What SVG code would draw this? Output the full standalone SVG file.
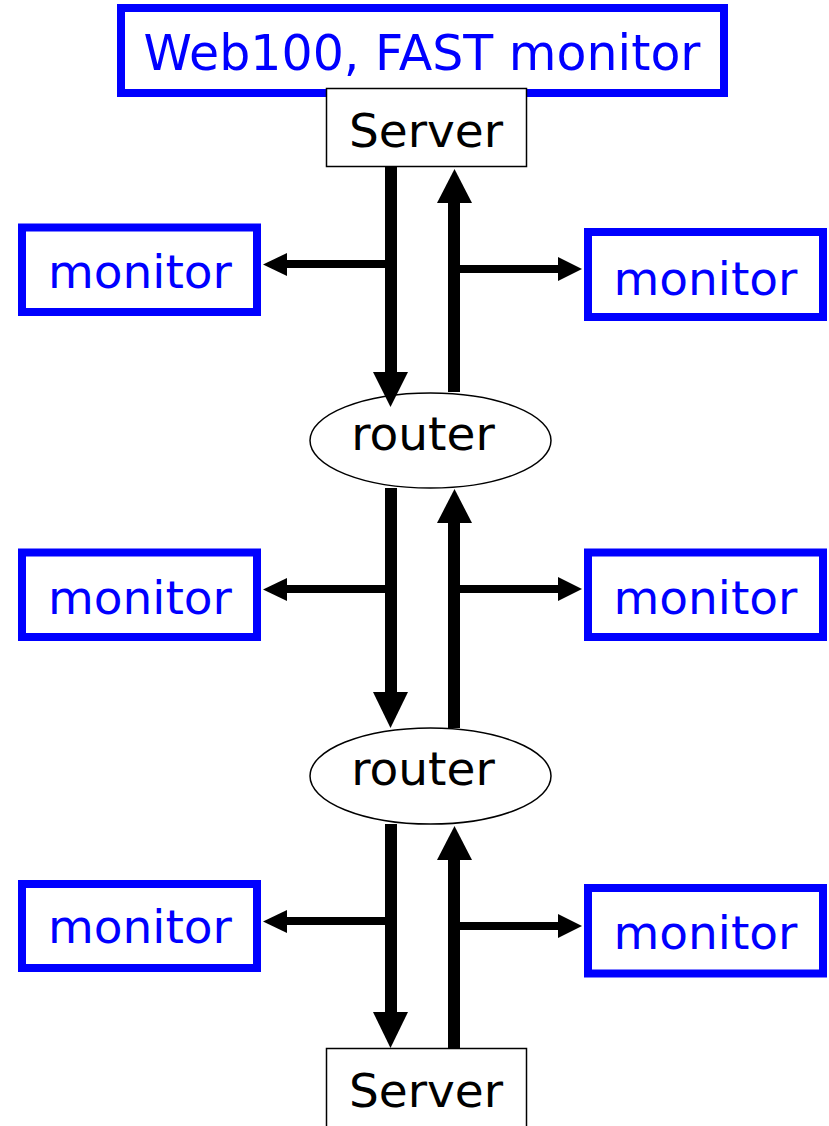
<svg xmlns="http://www.w3.org/2000/svg" width="829" height="1126" viewBox="0 0 829 1126">
<style>
.mon rect{fill:#fff;stroke:#0000ff;stroke-width:8}
.mon text{fill:#0000ff;font-family:"DejaVu Sans",Verdana,sans-serif;font-size:47px;text-anchor:middle}
.blk text{fill:#000;font-family:"DejaVu Sans",Verdana,sans-serif;font-size:47px;text-anchor:middle}
.blk rect,.blk ellipse{fill:#fff;stroke:#000;stroke-width:1.5}
.vl{stroke:#000;stroke-width:12;fill:none}
.hl{stroke:#000;stroke-width:8;fill:none}
.hd{fill:#000}
</style>
<rect width="829" height="1126" fill="#fff"/>
<g id="title" class="mon"><rect x="121" y="8" width="603" height="85"/><text x="422" y="70" style="font-size:49px">Web100, FAST monitor</text></g>
<g id="server-top" class="blk"><rect x="326.5" y="88.5" width="200" height="78"/><text x="426" y="147">Server</text></g>
<g id="router1" class="blk"><ellipse cx="430.5" cy="440.5" rx="120.5" ry="47.5"/><text x="423" y="450">router</text></g>
<g id="router2" class="blk"><ellipse cx="430.5" cy="776" rx="120.5" ry="48"/><text x="423" y="785">router</text></g>
<g id="server-bottom" class="blk"><rect x="326.5" y="1048.5" width="200" height="90"/><text x="426" y="1107">Server</text></g>
<g id="monitor-l1" class="mon"><rect x="22" y="227.5" width="235" height="84.5"/><text x="140" y="288">monitor</text></g>
<g id="monitor-r1" class="mon"><rect x="588" y="232" width="235" height="85"/><text x="705.5" y="295">monitor</text></g>
<g id="monitor-l2" class="mon"><rect x="22" y="552.5" width="235" height="84.5"/><text x="140" y="614">monitor</text></g>
<g id="monitor-r2" class="mon"><rect x="588" y="552.5" width="235" height="84.5"/><text x="705.5" y="614">monitor</text></g>
<g id="monitor-l3" class="mon"><rect x="22" y="884" width="235" height="84"/><text x="140" y="943">monitor</text></g>
<g id="monitor-r3" class="mon"><rect x="588" y="888" width="235" height="85.5"/><text x="705.5" y="949">monitor</text></g>
<g id="connectors">
<line class="vl" x1="391" y1="167" x2="391" y2="374"/><polygon class="hd" points="373,372 408,372 390.5,407"/>
<line class="vl" x1="454" y1="392" x2="454" y2="201"/><polygon class="hd" points="437,203 472,203 454.5,169"/>
<line class="hl" x1="391" y1="264" x2="285" y2="264"/><polygon class="hd" points="287,253 287,276 263,264.5"/>
<line class="hl" x1="454" y1="269" x2="560" y2="269"/><polygon class="hd" points="558,257 558,281 582,269"/>
<line class="vl" x1="391" y1="488" x2="391" y2="694"/><polygon class="hd" points="373,692 408,692 390.5,728"/>
<line class="vl" x1="454" y1="728" x2="454" y2="521"/><polygon class="hd" points="437,523 472,523 454.5,489"/>
<line class="hl" x1="391" y1="589" x2="285" y2="589"/><polygon class="hd" points="287,578 287,601 263,589.5"/>
<line class="hl" x1="454" y1="589" x2="560" y2="589"/><polygon class="hd" points="558,577 558,601 582,589"/>
<line class="vl" x1="391" y1="824" x2="391" y2="1014"/><polygon class="hd" points="373,1012 408,1012 390.5,1048"/>
<line class="vl" x1="454" y1="1048" x2="454" y2="858"/><polygon class="hd" points="437,860 472,860 454.5,826"/>
<line class="hl" x1="391" y1="921" x2="285" y2="921"/><polygon class="hd" points="287,910 287,933 263,921.5"/>
<line class="hl" x1="454" y1="926" x2="560" y2="926"/><polygon class="hd" points="558,914 558,938 582,926"/>
</g>
</svg>
